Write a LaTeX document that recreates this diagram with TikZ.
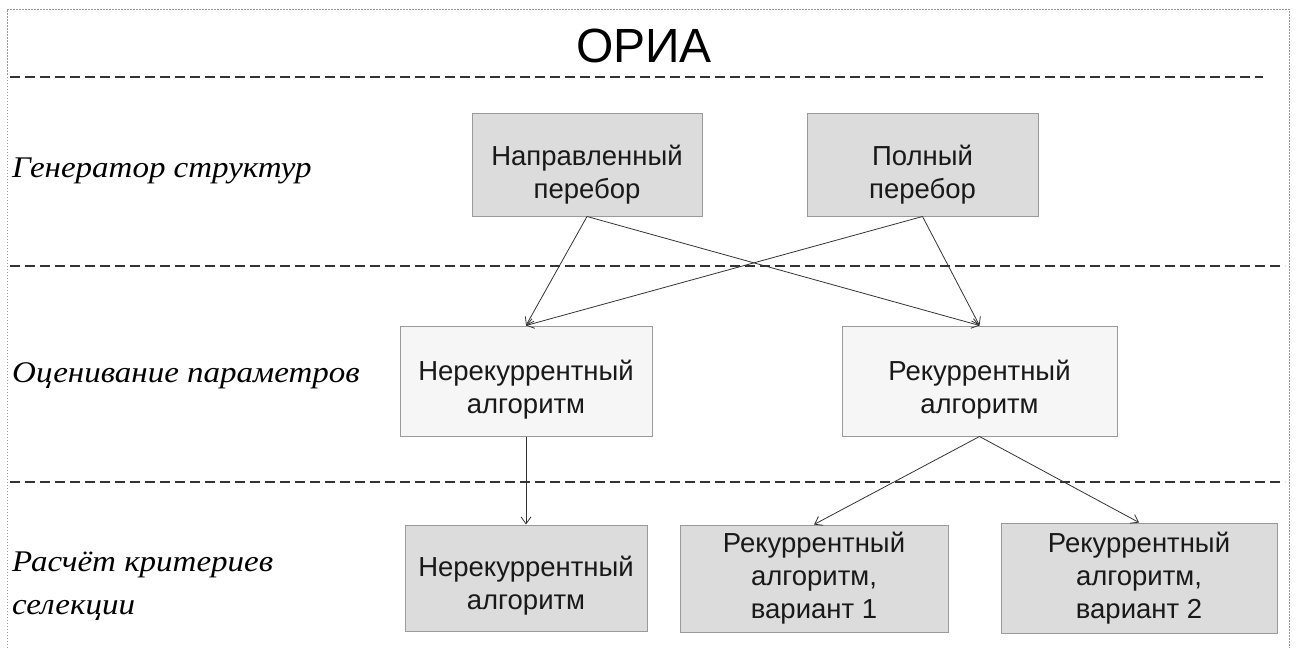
\documentclass[tikz,border=0pt]{standalone}
\usepackage{fontspec}
\setmainfont{Liberation Sans}
\newfontfamily\lblfont[FakeStretch=1.1]{Liberation Serif}
\usetikzlibrary{arrows.meta}
\definecolor{boxdark}{HTML}{DCDCDC}
\definecolor{boxlight}{HTML}{F6F6F6}
\definecolor{boxline}{HTML}{9A9A9A}
\definecolor{lineclr}{HTML}{333333}
\newcommand\lowr[1]{\rule{0pt}{#1}}
\begin{document}
\begin{tikzpicture}[x=1pt,y=-1pt,
  box/.style={draw=boxline, line width=1pt, inner sep=0pt, align=center,
    font=\fontsize{27.5}{33}\selectfont, text=black!90},
  darkbox/.style={box, fill=boxdark},
  lightbox/.style={box, fill=boxlight},
  lvl/.style={anchor=west, align=left, inner sep=0pt,
    font=\lblfont\itshape\fontsize{30}{43}\selectfont},
  sep/.style={draw=lineclr, line width=1.2pt, dash pattern=on 10pt off 5pt},
  conn/.style={draw=lineclr, line width=0.8pt, -{Straight Barb[length=7pt,width=10pt]}}
]
\useasboundingbox (0,0) rectangle (1296,648);
% outer dotted frame
\draw[gray!80, line width=0.9pt, dash pattern=on 1.5pt off 1.5pt] (7,660) -- (7,9) -- (1289,9) -- (1289,660);
% title
\node[font=\fontsize{48}{52}\selectfont] (title) at (644,46) {ОРИА};
% separators
\coordinate (s1a) at (10,77); \coordinate (s1b) at (1263,77);
\coordinate (s2a) at (10,266); \coordinate (s2b) at (1285,266);
\coordinate (s3a) at (10,482); \coordinate (s3b) at (1285,482);
\draw[sep] (s1a) -- (s1b);
\draw[sep] (s2a) -- (s2b);
\draw[sep] (s3a) -- (s3b);
% level labels
\node[lvl] (l1) at (12,171) {Генератор структур};
\node[lvl] (l2) at (12,376) {Оценивание параметров};
\node[lvl] (l3) at (12,586) {Расчёт критериев\\селекции};
% boxes
\node[darkbox, minimum width=230pt, minimum height=103pt] (dir) at (587,164.5) {\lowr{40pt}Направленный\\перебор};
\node[darkbox, minimum width=231pt, minimum height=103pt] (full) at (922.5,164.5) {\lowr{40pt}Полный\\перебор};
\node[lightbox, minimum width=252pt, minimum height=110pt] (nrm) at (526,381) {\lowr{38pt}Нерекуррентный\\алгоритм};
\node[lightbox, minimum width=275pt, minimum height=110pt] (rm) at (979.5,381) {\lowr{38pt}Рекуррентный\\алгоритм};
\node[darkbox, minimum width=242pt, minimum height=106pt] (nrb) at (526,578) {\lowr{36pt}Нерекуррентный\\алгоритм};
\node[darkbox, minimum width=268pt, minimum height=107pt] (v1) at (814,578.5) {Рекуррентный\\алгоритм,\\вариант 1};
\node[darkbox, minimum width=276pt, minimum height=110pt] (v2) at (1139,578) {Рекуррентный\\алгоритм,\\вариант 2};
% connectors
\draw[conn] (dir.south) -- (nrm.north);
\draw[conn] (dir.south) -- (rm.north);
\draw[conn] (full.south) -- (nrm.north);
\draw[conn] (full.south) -- (rm.north);
\draw[conn] (nrm.south) -- (nrb.north);
\draw[conn] (rm.south) -- (v1.north);
\draw[conn] (rm.south) -- (v2.north);
\end{tikzpicture}
\end{document}
